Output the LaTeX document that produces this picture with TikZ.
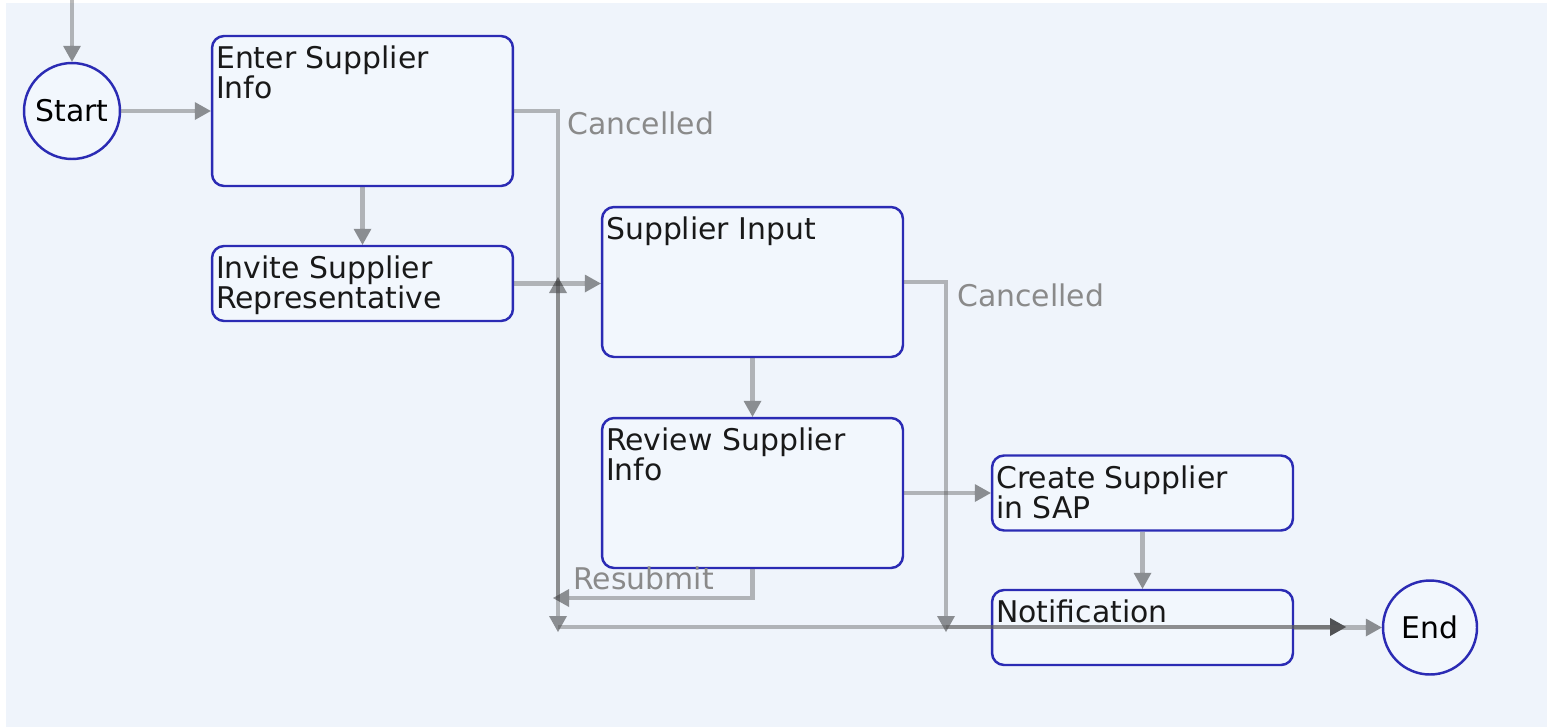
\documentclass[tikz,border=0pt]{standalone}
\usepackage{fontspec}
\setmainfont{DejaVu Sans}
\usetikzlibrary{arrows.meta}

\definecolor{bgblue}{HTML}{EFF4FB}
\definecolor{boxfill}{HTML}{F2F7FD}
\definecolor{boxline}{HTML}{2B2BB4}
\definecolor{flowgray}{HTML}{5A5A5A}
\definecolor{labelgray}{HTML}{8A8A8A}
\newcommand{\flowfont}{\fontsize{17}{17}\selectfont}

\tikzset{
  task/.style={draw=boxline, fill=boxfill, line width=1.4pt, rounded corners=0.24cm,
    minimum width=6.02cm, minimum height=#1, inner sep=0pt},
  task/.default=3cm,
  tasktext/.style={anchor=north west, inner sep=0pt, align=left, font=\flowfont, text=black!90},
  event/.style={circle, draw=boxline, fill=boxfill, line width=1.4pt, minimum size=#1,
    inner sep=0pt, font=\flowfont},
  flow/.style={draw=flowgray, opacity=0.42, line width=2.4pt,
    -{Triangle[length=0.32cm, width=0.36cm, line width=0pt, color=black]}},
  flowlabel/.style={inner sep=0pt, font=\flowfont, text=labelgray}
}

\begin{document}
\begin{tikzpicture}[x=0.02cm, y=-0.02cm]
\useasboundingbox (0,0) rectangle (1547,727);
\fill[bgblue] (6,3) rectangle (1547,727);

% events and tasks
\node[event=1.92cm] (start) at (72,111) {Start};
\node[event=1.88cm] (end) at (1430,627.5) {End};

\node[task] (enter) at (362.5,111) {};
\node[task=1.5cm] (invite) at (362.5,283.5) {};
\node[task] (input) at (752.5,282) {};
\node[task] (review) at (752.5,493) {};
\node[task=1.5cm] (create) at (1142.5,493) {};
\node[task=1.5cm] (notify) at (1142.5,627.5) {};

\node[tasktext] (enterT) at ([shift={(5,11)}]enter.north west) {Enter Supplier\\Info};
\node[tasktext] (inviteT) at ([shift={(5,11)}]invite.north west) {Invite Supplier\\Representative};
\node[tasktext] (inputT) at ([shift={(5,11)}]input.north west) {Supplier Input};
\node[tasktext] (reviewT) at ([shift={(5,11)}]review.north west) {Review Supplier\\Info};
\node[tasktext] (createT) at ([shift={(5,11)}]create.north west) {Create Supplier\\in SAP};
\node[tasktext] (notifyT) at ([shift={(5,11)}]notify.north west) {Notification};

% junction points
\coordinate (in) at (72,0);
\coordinate (c1) at (558,632);
\coordinate (c2) at (946,632);
\coordinate (rs) at (553,598);
\coordinate (up) at (558,277);
\coordinate (mrg) at (1346,627);

% connectors
\draw[flow] (in) -- (start);
\draw[flow] (start) -- (enter);
\draw[flow] (enter) -- (invite);
\draw[flow] (invite.east) -- (invite.east -| input.west);
\draw[flow] (input) -- (review);
\draw[flow] (review.east) -- (review.east -| create.west);
\draw[flow] (create) -- (notify);
\draw[flow] (enter.east) -| (c1);
\draw[flow] (input.east) -| (c2);
\draw[flow] (review.south) |- (rs);
\draw[flow] (c1 |- rs) -- (up);
\draw[flow] (c1 |- mrg) -- (mrg);
\draw[flow] (c2 |- mrg) -- (mrg);
\draw[flow] (notify.east) -- (end);

\node[flowlabel, anchor=base west] (cancelA) at (567,134) {Cancelled};
\node[flowlabel, anchor=base west] (cancelB) at (957,306) {Cancelled};
\node[flowlabel, anchor=base west] (resub) at (573,589) {Resubmit};

\end{tikzpicture}
\end{document}
